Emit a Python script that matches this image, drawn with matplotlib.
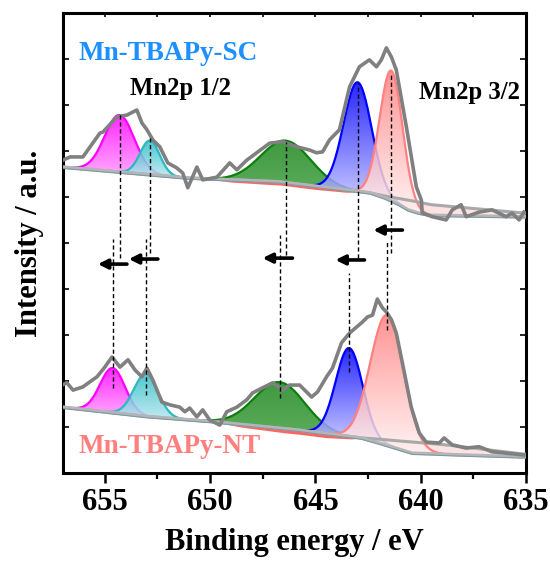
import numpy as np
import matplotlib
matplotlib.use('Agg')
import matplotlib.pyplot as plt
from matplotlib.colors import LinearSegmentedColormap
from matplotlib.patches import Polygon

plt.rcParams['font.family'] = 'Liberation Serif'
plt.rcParams['font.weight'] = 'bold'

# measured spectra (binding energy / eV, intensity a.u.)
sc_x = [656.99, 656.65, 656.04, 655.23, 655.09, 654.43, 653.95, 653.48, 653.24, 653.00,
        652.72, 652.39, 652.01, 651.58, 651.30, 651.06, 650.63, 650.35, 649.68, 649.07,
        648.73, 648.26, 647.79, 647.17, 646.56, 645.89, 645.28, 644.95, 644.66, 644.33,
        643.86, 643.38, 642.91, 642.44, 642.10, 641.87, 641.63, 641.39, 641.16, 640.68,
        640.21, 639.97, 639.93, 639.45, 638.79, 638.50, 638.08, 637.84, 637.23, 636.61,
        635.95, 635.66, 635.33, 635.10]
sc_y = [6.80, 6.87, 6.87, 7.39, 7.41, 7.74, 7.78, 7.89, 7.61, 7.46,
        7.24, 7.09, 6.74, 6.63, 6.52, 6.20, 6.65, 6.37, 6.43, 6.74,
        6.59, 6.80, 6.96, 7.17, 7.20, 7.09, 7.02, 6.96, 6.98, 7.24,
        7.46, 8.39, 8.83, 8.98, 8.83, 8.98, 9.24, 9.04, 8.76, 7.52,
        6.22, 5.93, 5.65, 5.57, 5.50, 5.72, 5.83, 5.57, 5.67, 5.72,
        5.57, 5.65, 5.50, 5.67]

nt_x = [657.03, 656.80, 656.51, 656.04, 655.71, 655.37, 655.00, 654.66, 654.28, 653.90,
        653.57, 653.24, 653.00, 652.72, 652.29, 651.91, 651.44, 651.20, 650.97, 650.63,
        650.35, 650.02, 649.54, 649.21, 648.73, 648.26, 647.98, 647.51, 647.03, 646.56,
        646.23, 645.75, 645.18, 644.90, 644.47, 644.19, 643.76, 643.38, 643.05, 642.77,
        642.53, 642.29, 642.06, 641.82, 641.63, 641.39, 641.16, 640.87, 640.45, 640.07,
        639.74, 639.12, 638.89, 638.50, 637.84, 637.23, 636.61, 635.95, 635.10]
nt_y = [1.91, 1.96, 1.80, 1.87, 1.98, 2.09, 2.30, 2.52, 2.30, 2.46,
        2.24, 2.09, 2.28, 2.02, 1.54, 1.48, 1.43, 1.33, 1.41, 1.22,
        1.37, 1.15, 1.04, 1.33, 1.43, 1.59, 1.74, 1.85, 1.96, 1.80,
        1.91, 1.91, 1.65, 1.76, 2.09, 2.28, 2.83, 3.04, 3.17, 3.28,
        3.39, 3.43, 3.78, 3.59, 3.50, 3.33, 3.04, 2.39, 1.43, 0.87,
        0.67, 0.65, 0.76, 0.61, 0.54, 0.57, 0.46, 0.43, 0.39]

# backgrounds (lower line and upper line)
sc_bg_x = [657.0, 651.0, 646.7, 643.5, 642.4, 641.7, 641.0, 640.6, 640.1, 639.5, 635.1]
sc_bg_lo = [6.65, 6.41, 6.33, 6.15, 6.09, 5.98, 5.83, 5.72, 5.65, 5.60, 5.57]
sc_bg_hi = [6.65, 6.41, 6.33, 6.15, 6.09, 6.02, 5.96, 5.93, 5.89, 5.83, 5.65]
nt_bg_x = [657.0, 652.86, 649.7, 645.75, 642.8, 641.6, 640.4, 639.0, 638.0, 635.1]
nt_bg_lo = [1.43, 1.22, 1.11, 0.93, 0.76, 0.60, 0.43, 0.41, 0.39, 0.35]
nt_bg_hi = [1.43, 1.22, 1.11, 0.93, 0.76, 0.72, 0.67, 0.62, 0.57, 0.41]

# fitted components: centre, height, fwhm
sc_center = [654.30, 652.86, 646.40, 643.00, 641.40]
sc_height = [1.24, 0.74, 0.91, 2.37, 2.83]
sc_fwhm = [1.66, 1.10, 2.80, 1.56, 1.28]
nt_center = [654.63, 653.05, 646.70, 643.40, 641.60]
nt_height = [0.97, 0.92, 1.00, 1.92, 2.83]
nt_fwhm = [1.40, 1.35, 2.80, 1.50, 1.85]

comp_line = ['#FF00FF', '#2DB8C2', '#0A800A', '#0000FF', '#FF8080']
comp_top = ['#FF00FF', '#2EBBC6', '#1C861C', '#0000FF', '#FF8080']
comp_bot = ['#FF9CFF', '#B4E8EE', '#3E9E3E', '#C8C8FF', '#FFF2F2']

# red strip below the baseline
sc_strip_x = [650.2, 649.0, 647.0, 645.0, 643.5, 643.0]
sc_strip_d = [0.0, 0.05, 0.07, 0.07, 0.05, 0.0]
nt_strip_x = [650.0, 648.5, 646.5, 644.5, 643.3, 642.8]
nt_strip_d = [0.0, 0.06, 0.09, 0.09, 0.05, 0.0]

# dashed guide lines (x, y_top, y_bottom)
sc_dash_top = [7.83, 7.28, 7.20, 8.48, 8.70]
sc_dash_bot = [4.67, 4.78, 4.74, 4.67, 4.78]
nt_dash_top = [5.09, 5.09, 5.17, 4.35, 5.07]
nt_dash_bot = [1.85, 1.70, 1.63, 2.20, 3.11]

# shift arrows (tail -> head)
arr_tail = [653.95, 652.48, 646.09, 642.67, 640.87]
arr_head = [655.33, 653.86, 647.51, 644.05, 642.25]
arr_y = [4.54, 4.65, 4.67, 4.63, 5.28]


def grad_fill(ax, x, lo, hi, ctop, cbot, alpha, z):
    verts = np.vstack([np.c_[x, hi], np.c_[x[::-1], lo[::-1]]])
    patch = Polygon(verts, closed=True, fc='none', ec='none', zorder=z)
    ax.add_patch(patch)
    cmap = LinearSegmentedColormap.from_list('g', [cbot, ctop])
    grad = np.linspace(0, 1, 256).reshape(-1, 1)
    im = ax.imshow(grad, cmap=cmap, aspect='auto', origin='lower',
                   extent=[x.min(), x.max(), lo.min(), hi.max()],
                   alpha=alpha, zorder=z, interpolation='bilinear')
    im.set_clip_path(patch)


def draw_spectrum(ax, ex, ey, bgx, bglo, bghi, cen, hgt, fw, sx, sd):
    xx = np.linspace(635, 657, 900)
    bx = np.array(bgx)[::-1]
    lo = np.interp(xx, bx, np.array(bglo)[::-1])
    hi = np.interp(xx, bx, np.array(bghi)[::-1])
    # background band
    ax.fill_between(xx, lo, hi, color='#FBE3E3', lw=0, zorder=2)
    # red strip
    strip = np.interp(xx, np.array(sx)[::-1], np.array(sd)[::-1], left=0, right=0)
    ms = strip > 0
    ax.fill_between(xx[ms], lo[ms] - strip[ms], lo[ms], color='#FF6464', lw=0, zorder=2)
    for i in range(len(cen)):
        g = hgt[i] * np.exp(-4 * np.log(2) * (xx - cen[i]) ** 2 / fw[i] ** 2)
        m = g > 0.01
        grad_fill(ax, xx[m], lo[m], lo[m] + g[m], comp_top[i], comp_bot[i], 0.85, 3 + i * 0.1)
        ax.plot(xx[m], lo[m] + g[m], color=comp_line[i], lw=1.6, zorder=3.05 + i * 0.1)
    ax.plot(xx, hi, color='#A9A9A9', lw=2.2, zorder=4)
    ax.plot(xx, lo, color='#B5B5B5', lw=2.4, zorder=4)
    ax.plot(xx, lo - 0.03, color='#7E9AA4', lw=0.8, zorder=4)
    ax.plot(ex, ey, color='#808080', lw=2.6, zorder=5, solid_joinstyle='round')


fig = plt.figure(figsize=(5.5, 5.63), dpi=100)
ax = fig.add_axes([0.114, 0.160, 0.8424, 0.817])

draw_spectrum(ax, sc_x, sc_y, sc_bg_x, sc_bg_lo, sc_bg_hi,
              sc_center, sc_height, sc_fwhm, sc_strip_x, sc_strip_d)
draw_spectrum(ax, nt_x, nt_y, nt_bg_x, nt_bg_lo, nt_bg_hi,
              nt_center, nt_height, nt_fwhm, nt_strip_x, nt_strip_d)

for i in range(5):
    ax.plot([sc_center[i], sc_center[i]], [sc_dash_bot[i], sc_dash_top[i]],
            color='k', lw=1, ls=(0, (3, 2)), zorder=6)
    ax.plot([nt_center[i], nt_center[i]], [nt_dash_bot[i], nt_dash_top[i]],
            color='k', lw=1, ls=(0, (3, 2)), zorder=6)
    ax.annotate('', xy=(arr_head[i], arr_y[i]), xytext=(arr_tail[i], arr_y[i]),
                arrowprops=dict(arrowstyle='-|>', lw=2.6, color='k',
                                mutation_scale=14, shrinkA=0, shrinkB=0),
                zorder=7)

ax.text(656.23, 9.11, 'Mn-TBAPy-SC', color='#1E8FFF', fontsize=19.5,
        fontweight='bold', ha='left', va='center')
ax.text(653.81, 8.35, 'Mn2p 1/2', color='k', fontsize=17.8,
        fontweight='bold', ha='left', va='center')
ax.text(640.06, 8.28, 'Mn2p 3/2', color='k', fontsize=17.8,
        fontweight='bold', ha='left', va='center')
ax.text(656.27, 0.57, 'Mn-TBAPy-NT', color='#FF7F7F', fontsize=19.5,
        fontweight='bold', ha='left', va='center')

ax.set_xlim(657, 635)
ax.set_ylim(0, 10)
ax.set_xticks([655, 650, 645, 640, 635])
ax.set_xticks([652.5, 647.5, 642.5, 637.5], minor=True)
ax.set_yticks(range(1, 10))
ax.set_yticklabels([])
ax.tick_params(axis='x', which='major', direction='out', length=7, width=1.8,
               labelsize=22, pad=4)
ax.tick_params(axis='x', which='minor', direction='out', length=4.5, width=1.6)
ax.tick_params(axis='y', direction='in', length=4, width=1.2, left=True, right=True)

# small inward ticks along the top spine
top = ax.secondary_xaxis('top')
top.set_xticks([655, 652.5, 650, 647.5, 645, 642.5, 640, 637.5, 635])
top.tick_params(direction='in', length=3, width=1.2, labeltop=False)
top.spines['top'].set_visible(False)

for s in ax.spines.values():
    s.set_linewidth(2.2)
ax.set_xlabel('Binding energy / eV', fontsize=22, fontweight='bold', labelpad=8)
ax.set_ylabel('Intensity / a.u.', fontsize=22, fontweight='bold', labelpad=10)

fig.savefig('out.png', dpi=100)
